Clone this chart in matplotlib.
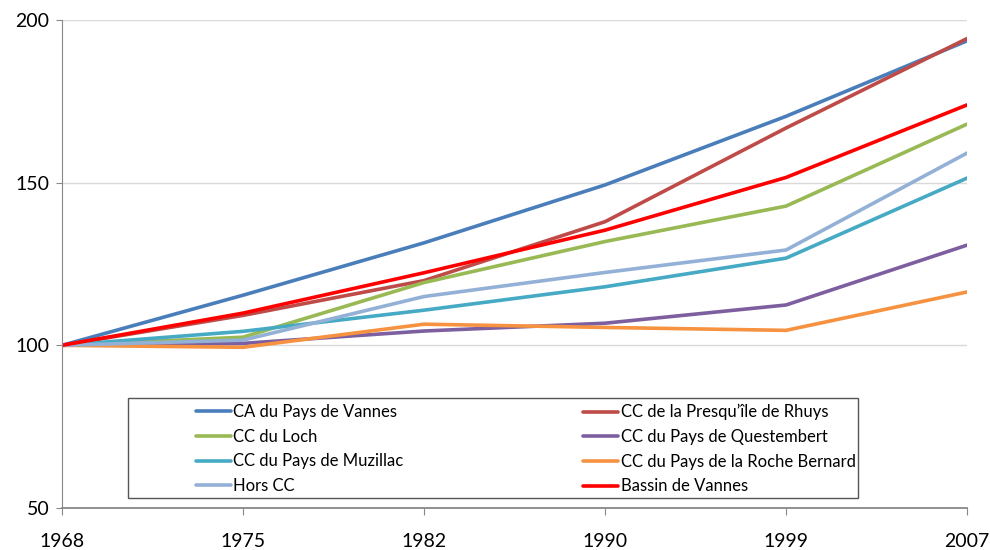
import matplotlib.pyplot as plt
from matplotlib.patches import Rectangle

plt.rcParams['font.family'] = ['Lato', 'DejaVu Sans']

years = ['1968', '1975', '1982', '1990', '1999', '2007']

ca_vannes = [100, 115.4, 131.5, 149.3, 170.4, 193.6]
cc_rhuys = [100, 109.2, 119.9, 138.0, 166.8, 194.3]
cc_loch = [100, 102.5, 119.3, 131.9, 142.8, 168.0]
cc_questembert = [100, 100.6, 104.4, 106.8, 112.4, 130.8]
cc_muzillac = [100, 104.3, 110.8, 118.0, 126.8, 151.4]
cc_roche = [100, 99.4, 106.5, 105.5, 104.6, 116.4]
hors_cc = [100, 101.6, 115.0, 122.4, 129.3, 159.1]
bassin = [100, 109.9, 122.3, 135.4, 151.6, 173.9]

series = [
    ('CA du Pays de Vannes', ca_vannes, '#4A7EBB'),
    ('CC de la Presqu\u2019île de Rhuys', cc_rhuys, '#BE4B48'),
    ('CC du Loch', cc_loch, '#98B954'),
    ('CC du Pays de Questembert', cc_questembert, '#7D5FA0'),
    ('CC du Pays de Muzillac', cc_muzillac, '#46AAC5'),
    ('CC du Pays de la Roche Bernard', cc_roche, '#F69240'),
    ('Hors CC', hors_cc, '#93B1D6'),
    ('Bassin de Vannes', bassin, '#FF0000'),
]

fig = plt.figure(figsize=(9.9, 5.5), dpi=100)
ax = fig.add_axes([0.0626, 0.0764, 0.9142, 0.8872])

x = list(range(len(years)))
lines = []
for name, vals, col in series:
    ln, = ax.plot(x, vals, color=col, lw=2.6, label=name, solid_capstyle='round')
    lines.append(ln)

ax.set_xlim(0, len(years) - 1)
ax.set_ylim(50, 200)
ax.set_yticks([50, 100, 150, 200])
ax.set_xticks(x)
ax.set_xticklabels(years)
ax.grid(axis='y', color='#D9D9D9', lw=1)
ax.set_axisbelow(True)
for s in ['top', 'right']:
    ax.spines[s].set_visible(False)
ax.spines['left'].set_color('#888888')
ax.spines['bottom'].set_color('#888888')
ax.spines['bottom'].set_linewidth(1.3)
ax.tick_params(axis='x', direction='out', length=5, color='#888888', pad=13, labelsize=14)
ax.tick_params(axis='y', direction='out', length=4, color='#888888', pad=5, labelsize=14)

# legend box, then one legend per column (entries go row by row)
ax.add_patch(Rectangle((0.0729, 0.0205), 0.8067, 0.2049, transform=ax.transAxes,
                       fill=True, facecolor='white', edgecolor='#555555', lw=1.0, zorder=5))
kw = dict(loc='upper left', fontsize=12, frameon=False, handlelength=2.1,
          handletextpad=0.15, borderaxespad=0, borderpad=0, labelspacing=0.52)
leg1 = ax.legend(lines[0::2], [s[0] for s in series[0::2]],
                 bbox_to_anchor=(0.148, 0.213), **kw)
leg1.set_zorder(6)
ax.add_artist(leg1)
leg2 = ax.legend(lines[1::2], [s[0] for s in series[1::2]],
                 bbox_to_anchor=(0.576, 0.213), **kw)
leg2.set_zorder(6)

fig.savefig('out.png', dpi=100)
